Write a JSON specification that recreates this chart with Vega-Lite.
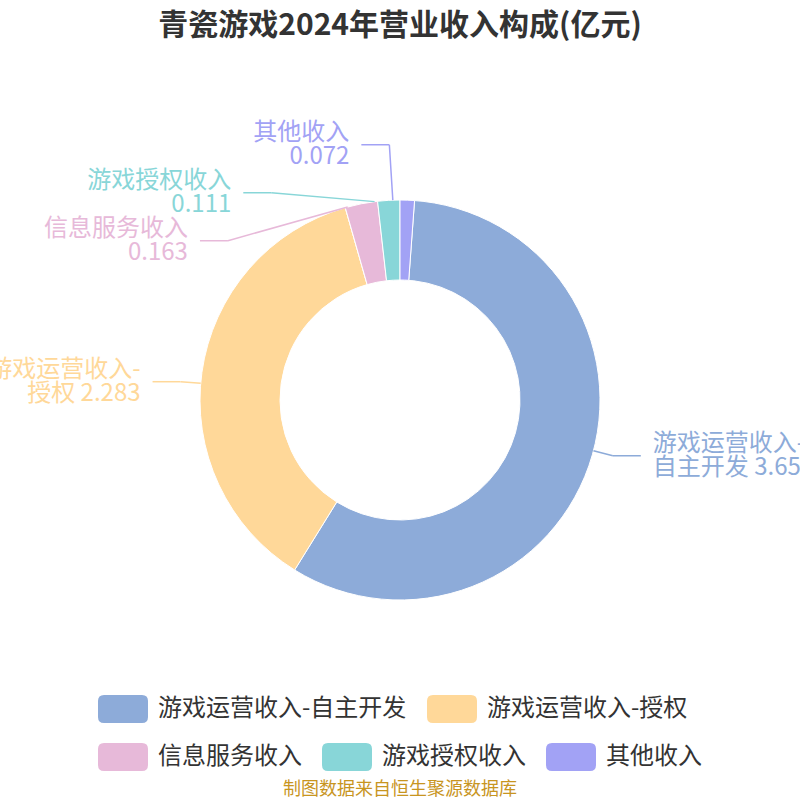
{
  "$schema": "https://vega.github.io/schema/vega-lite/v6.json",
  "width": 800,
  "height": 800,
  "autosize": {"type": "none"},
  "padding": 0,
  "background": "white",
  "title": {
    "text": "青瓷游戏2024年营业收入构成(亿元)",
    "anchor": "middle",
    "font": "Noto Sans CJK SC",
    "fontSize": 30,
    "fontWeight": "bold",
    "color": "#333333",
    "dy": 45
  },
  "data": {
    "values": [
      {"name": "游戏运营收入-自主开发", "value": 3.654},
      {"name": "游戏运营收入-授权", "value": 2.283},
      {"name": "信息服务收入", "value": 0.163},
      {"name": "游戏授权收入", "value": 0.111},
      {"name": "其他收入", "value": 0.072}
    ]
  },
  "transform": [
    {"window": [{"op": "row_number", "as": "idx"}]},
    {"joinaggregate": [{"op": "sum", "field": "value", "as": "total"}]},
    {"window": [{"op": "sum", "field": "value", "as": "c1"}], "sort": [{"field": "idx"}], "frame": [null, 0]},
    {"calculate": "datum.c1 - datum.value", "as": "c0"},
    {"calculate": "(datum.c0 + datum.value / 2) / datum.total * 2 * PI", "as": "mid"},
    {"calculate": "sin(datum.mid) >= 0 ? 1 : -1", "as": "dir"},
    {"calculate": "200 * sin(datum.mid)", "as": "ex"},
    {"calculate": "200 * cos(datum.mid)", "as": "ey"},
    {"calculate": "220 * cos(datum.mid)", "as": "ny"},
    {"window": [{"op": "row_number", "as": "ru"}], "groupby": ["dir"], "sort": [{"field": "ny", "order": "ascending"}]},
    {"calculate": "datum.ny - 48 * datum.ru", "as": "a"},
    {"window": [{"op": "max", "field": "a", "as": "amax"}], "groupby": ["dir"], "sort": [{"field": "ny", "order": "ascending"}], "frame": [null, 0]},
    {"calculate": "datum.amax + 48 * datum.ru", "as": "u"},
    {"window": [{"op": "row_number", "as": "rd"}], "groupby": ["dir"], "sort": [{"field": "ny", "order": "descending"}]},
    {"calculate": "datum.ny + 48 * datum.rd", "as": "b"},
    {"window": [{"op": "min", "field": "b", "as": "bmin"}], "groupby": ["dir"], "sort": [{"field": "ny", "order": "descending"}], "frame": [null, 0]},
    {"calculate": "datum.bmin - 48 * datum.rd", "as": "d"},
    {"calculate": "0.6 * datum.d + 0.4 * datum.u", "as": "ly"},
    {"calculate": "abs(datum.ly)", "as": "absly"},
    {"joinaggregate": [{"op": "max", "field": "absly", "as": "maxly"}], "groupby": ["dir"]},
    {"calculate": "max(220, datum.maxly + 0.3)", "as": "rb"},
    {"calculate": "datum.dir * 220 * sqrt(max(0, 1 - pow(datum.ly / datum.rb, 2)))", "as": "bx"},
    {"calculate": "datum.bx + 28 * datum.dir", "as": "lx"},
    {"calculate": "datum.lx + 12 * datum.dir", "as": "tx"},
    {"calculate": "indexof(datum.name, '-') >= 0 ? [substring(datum.name, 0, indexof(datum.name, '-') + 1), substring(datum.name, indexof(datum.name, '-') + 1) + ' ' + datum.value] : [datum.name, '' + datum.value]", "as": "lines"}
  ],
  "layer": [
    {
      "mark": {"type": "arc", "radius": 200, "innerRadius": 120, "stroke": "#ffffff", "strokeWidth": 1},
      "encoding": {
        "theta": {"field": "c0", "type": "quantitative", "stack": null},
        "theta2": {"field": "c1"},
        "color": {
          "field": "name",
          "type": "nominal",
          "scale": {
            "domain": ["游戏运营收入-自主开发", "游戏运营收入-授权", "信息服务收入", "游戏授权收入", "其他收入"],
            "range": ["#8dabd9", "#ffd899", "#e7b9d9", "#88d6d8", "#a2a2f5"]
          },
          "legend": {
            "values": ["游戏运营收入-自主开发", "游戏运营收入-授权"],
            "orient": "none",
            "legendX": 98,
            "legendY": 684,
            "direction": "horizontal",
            "columns": 2,
            "title": null,
            "symbolType": "M-0.76,-0.56H0.76Q1,-0.56 1,-0.32V0.32Q1,0.56 0.76,0.56H-0.76Q-1,0.56 -1,0.32V-0.32Q-1,-0.56 -0.76,-0.56Z",
            "symbolSize": 2500,
            "symbolStrokeWidth": 0,
            "labelFont": "Noto Sans CJK SC",
            "labelFontSize": 24,
            "labelColor": "#333333",
            "labelOffset": 10,
            "labelLimit": 400,
            "columnPadding": 20
          }
        }
      }
    },
    {
      "transform": [{"filter": "datum.idx > 2"}],
      "mark": {"type": "arc", "radius": 200, "innerRadius": 120, "stroke": "#ffffff", "strokeWidth": 1},
      "encoding": {
        "theta": {"field": "c0", "type": "quantitative", "stack": null},
        "theta2": {"field": "c1"},
        "fill": {
          "field": "name",
          "type": "nominal",
          "scale": {
            "domain": ["信息服务收入", "游戏授权收入", "其他收入"],
            "range": ["#e7b9d9", "#88d6d8", "#a2a2f5"]
          },
          "legend": {
            "orient": "none",
            "legendX": 98,
            "legendY": 732,
            "direction": "horizontal",
            "columns": 3,
            "title": "制图数据来自恒生聚源数据库",
            "titleOrient": "bottom",
            "titleAnchor": "middle",
            "titleFont": "Noto Sans CJK SC",
            "titleFontSize": 18,
            "titleFontWeight": "normal",
            "titleColor": "#c8951f",
            "titlePadding": 10,
            "titleLimit": 700,
            "symbolType": "M-0.76,-0.56H0.76Q1,-0.56 1,-0.32V0.32Q1,0.56 0.76,0.56H-0.76Q-1,0.56 -1,0.32V-0.32Q-1,-0.56 -0.76,-0.56Z",
            "symbolSize": 2500,
            "symbolStrokeWidth": 0,
            "labelFont": "Noto Sans CJK SC",
            "labelFontSize": 24,
            "labelColor": "#333333",
            "labelOffset": 10,
            "labelLimit": 400,
            "columnPadding": 20
          }
        }
      }
    },
    {
      "mark": {"type": "rule", "strokeWidth": 1.5},
      "encoding": {
        "x": {"field": "ex", "type": "quantitative", "scale": {"domain": [-400, 400], "nice": false, "zero": false}, "axis": null},
        "y": {"field": "ey", "type": "quantitative", "scale": {"domain": [-400, 400], "nice": false, "zero": false}, "axis": null},
        "x2": {"field": "bx"},
        "y2": {"field": "ly"},
        "color": {"field": "name", "type": "nominal", "legend": null}
      }
    },
    {
      "mark": {"type": "rule", "strokeWidth": 1.5},
      "encoding": {
        "x": {"field": "bx", "type": "quantitative", "axis": null},
        "y": {"field": "ly", "type": "quantitative", "axis": null},
        "x2": {"field": "lx"},
        "color": {"field": "name", "type": "nominal", "legend": null}
      }
    },
    {
      "transform": [{"filter": "datum.dir < 0"}],
      "mark": {"type": "text", "align": "right", "baseline": "middle", "dy": -12, "font": "Noto Sans CJK SC", "fontSize": 24, "lineHeight": 24},
      "encoding": {
        "x": {"field": "tx", "type": "quantitative", "axis": null},
        "y": {"field": "ly", "type": "quantitative", "axis": null},
        "text": {"field": "lines"},
        "color": {"field": "name", "type": "nominal", "legend": null}
      }
    },
    {
      "transform": [{"filter": "datum.dir > 0"}],
      "mark": {"type": "text", "align": "left", "baseline": "middle", "dy": -12, "font": "Noto Sans CJK SC", "fontSize": 24, "lineHeight": 24},
      "encoding": {
        "x": {"field": "tx", "type": "quantitative", "axis": null},
        "y": {"field": "ly", "type": "quantitative", "axis": null},
        "text": {"field": "lines"},
        "color": {"field": "name", "type": "nominal", "legend": null}
      }
    }
  ],
  "config": {"view": {"stroke": null}}
}
